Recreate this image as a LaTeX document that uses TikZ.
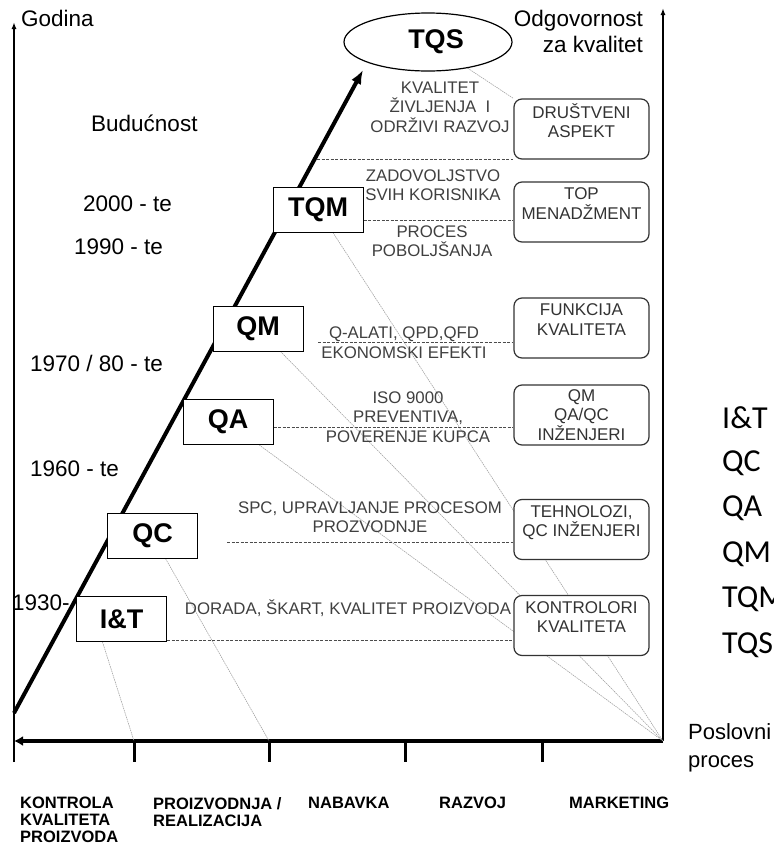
\documentclass[tikz,border=0pt]{standalone}
\usepackage{fontspec}
\setmainfont{Liberation Sans}
\newfontfamily\calibfont{Carlito}
\usepackage{tikz}
\usetikzlibrary{arrows.meta,positioning,calc,backgrounds,shapes.geometric}
\tikzset{
  era/.style      ={draw,fill=white,line width=1pt,minimum width=90pt,minimum height=45pt,inner sep=0pt,font=\fontsize{27}{29}\selectfont\bfseries},
  goal/.style     ={ellipse,draw,fill=white,line width=1.2pt,minimum width=168pt,minimum height=58pt,inner sep=0pt,font=\fontsize{27}{29}\selectfont\bfseries},
  role/.style     ={draw=black!80,fill=white,rounded corners=8pt,line width=1.2pt,minimum width=135pt,minimum height=60pt,inner sep=0pt,align=center,text=black!80,font=\fontsize{17}{19.5}\selectfont},
  lifted/.style   ={text depth=17pt},
  note/.style     ={align=center,inner sep=0pt,text=black!75,font=\fontsize{16.8}{19.5}\selectfont},
  year/.style     ={anchor=west,inner sep=0pt,font=\fontsize{22.5}{26}\selectfont},
  func/.style     ={anchor=north west,align=left,inner sep=0pt,font=\fontsize{16.5}{17}\selectfont\bfseries},
  abbr/.style     ={anchor=west,inner sep=0pt,font=\calibfont\fontsize{32}{34}\selectfont},
  axisline/.style ={line width=1.6pt},
  levelline/.style={black!70,line width=0.7pt,dash pattern=on 3pt off 1.5pt},
  fanline/.style  ={gray!75,line width=0.55pt,dash pattern=on 1.5pt off 0.8pt},
  tick/.style     ={line width=3pt},
}

\begin{document}
\begin{tikzpicture}[x=1pt,y=-1pt]
  \coordinate (bp) at (663,741);
  \coordinate (t1) at (134,741); \coordinate (t2) at (269,741);
  \coordinate (t3) at (405,741); \coordinate (t4) at (542,741);
  \coordinate (s0) at (14,713);  \coordinate (s1) at (363,70);

  \node[goal] (tqs) at (428,42){\hspace*{16pt}TQS};
  \node[era] (tqm) at (318,209.5){TQM};  \node[era] (qm) at (258,328.5){QM};
  \node[era] (qa) at (228,422){QA};      \node[era] (qc) at (152.5,535.5){QC};
  \node[era] (iat) at (121.5,619){I\&T};

  \node[role,lifted] (dru) at (581.5,129){DRUŠTVENI\\ASPEKT};
  \node[role,lifted] (top) at (581.5,212){TOP\\MENADŽMENT};
  \node[role,lifted] (fun) at (581.5,328){FUNKCIJA\\KVALITETA};
  \node[role] (inz) at (581.5,415){QM\\QA/QC\\INŽENJERI};
  \node[role,lifted] (teh) at (581.5,529.5){TEHNOLOZI,\\QC INŽENJERI};
  \node[role,lifted] (kon) at (581.5,625.5){KONTROLORI\\KVALITETA};

  \node[note] (kvz) at (440,107){KVALITET\\ŽIVLJENJA~~I\\ODRŽIVI RAZVOJ};
  \node[note] (zad) at (433,185){ZADOVOLJSTVO\\SVIH KORISNIKA};
  \node[note] (pob) at (432,241){PROCES\\POBOLJŠANJA};
  \node[note] (qal) at (404,342.5){Q-ALATI, QPD,QFD\\EKONOMSKI EFEKTI};
  \node[note] (iso) at (408,417){ISO 9000\\PREVENTIVA,\\POVERENJE KUPCA};
  \node[note] (spc) at (370,517){SPC, UPRAVLJANJE PROCESOM\\PROZVODNJE};
  \node[note] (dor) at (348,608){DORADA, ŠKART, KVALITET PROIZVODA};

  \node[year] (god) at (21,18){Godina};
  \node[year,anchor=east,align=right] (odg) at (643,31){Odgovornost\\za kvalitet};
  \node[year] (bud) at (91,123){Budućnost};
  \node[year] (y00) at (83,204){2000 - te};
  \node[year] (y90) at (74,247){1990 - te};
  \node[year] (y70) at (30,363){1970 / 80 - te};
  \node[year] (y60) at (30,469){1960 - te};
  \node[year] (y30) at (12,603){1930-};

  \node[func] (f1) at (20,797){KONTROLA\\KVALITETA\\PROIZVODA};
  \node[func] (f2) at (153,797){PROIZVODNJA /\\REALIZACIJA};
  \node[func] (f3) at (308,797){NABAVKA};
  \node[func] (f4) at (439,797){RAZVOJ};
  \node[func] (f5) at (569,797){MARKETING};

  \begin{scope}
    \clip (0,0) rectangle (774,847);
    \foreach \t [count=\i] in {I\&T,QC,QA,QM,TQM,TQS}
      \node[abbr] (ab\i) at (722,372.5+45.4*\i){\t};
    \node[year,align=left,font=\fontsize{22}{28}\selectfont] (pos) at (688,748){Poslovni\\proces};
  \end{scope}

  \begin{scope}[on background layer]
    \fill[white] (0,0) rectangle (774,847);
    \draw[axisline,-{Latex[length=7pt,width=5pt]}] (14,762) -- (14,22);
    \draw[axisline,-{Latex[length=7pt,width=5pt]}] (bp) -- (663,8);
    \draw[line width=4.5pt,-{Latex[length=9pt,width=10pt]}] (bp) -- (14,741);
    \foreach \k in {1,...,4}{\draw[tick] (t\k) -- ++(0,21);}
    \draw[line width=4pt,-{Latex[length=14pt,width=11pt]}] (s0) -- (s1);
    \foreach \n in {tqm,qm,qa}{\draw[fanline] (\n) -- (bp);}
    \draw[fanline] (qc) -- (t2);
    \draw[fanline] ($(iat.south)+(-19,0)$) -- (t1);
    \draw[fanline] (tqs) -- (dru.north west);
    \draw[levelline] (317,159) -- (dru.west |- 0,159);
    \draw[levelline] (tqm.east |- 0,220) -- (top.west |- 0,220);
    \draw[levelline] (318,342) -- (fun.west |- 0,342);
    \draw[levelline] (qa.east |- 0,427) -- (inz.west |- 0,427);
    \draw[levelline] (227,542) -- (teh.west |- 0,542);
    \draw[levelline] (iat.east |- 0,640) -- (kon.west |- 0,640);
  \end{scope}
\end{tikzpicture}
\end{document}
